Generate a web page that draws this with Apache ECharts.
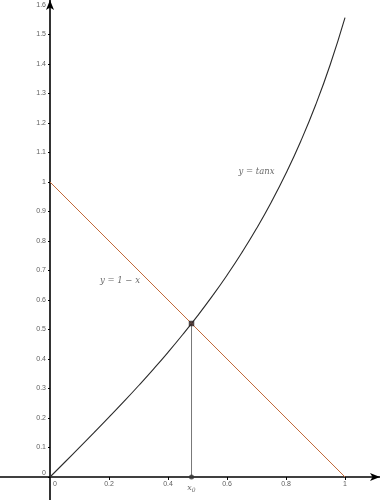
<!DOCTYPE html>
<html>
<head>
<meta charset="utf-8">
<script src="https://cdn.jsdelivr.net/npm/echarts@6/dist/echarts.min.js"></script>
<style>
  html, body { margin: 0; padding: 0; background: #fff; }
  #chart { width: 380px; height: 500px; }
</style>
</head>
<body>
<div id="chart"></div>
<script>
// Visible window of the plane
const xRange = [-0.1695, 1.1186];
const yRange = [-0.078, 1.617];

// Tick positions
const xTicks = [0.2, 0.4, 0.6, 0.8, 1];
const yTicks = [0, 0.1, 0.2, 0.3, 0.4, 0.5, 0.6, 0.7, 0.8, 0.9, 1, 1.1, 1.2, 1.3, 1.4, 1.5, 1.6];

// y = tan x, sampled on [0, 1]
const tanX = [0, 0.05, 0.1, 0.15, 0.2, 0.25, 0.3, 0.35, 0.4, 0.45, 0.5, 0.55, 0.6, 0.65, 0.7, 0.75, 0.8, 0.85, 0.9, 0.95, 1];
const tanY = [0, 0.0500, 0.1003, 0.1511, 0.2027, 0.2553, 0.3093, 0.3650, 0.4228, 0.4831, 0.5463, 0.6131, 0.6841, 0.7602, 0.8423, 0.9316, 1.0296, 1.1383, 1.2602, 1.3984, 1.5574];

// y = 1 - x, end points
const lineX = [0, 1];
const lineY = [1, 0];

// Intersection point x0
const x0 = 0.4797;
const y0 = 0.5203;

// Curve captions: [x, y, text]
const captions = [
  [0.70, 1.034, 'y = tanx'],
  [0.237, 0.664, 'y = 1 − x']
];

const tanData = tanX.map((x, i) => [x, tanY[i]]);
const lineData = lineX.map((x, i) => [x, lineY[i]]);

const chart = echarts.init(document.getElementById('chart'), null, { renderer: 'canvas' });

const labelFont = { color: '#333', fontSize: 7, fontFamily: 'Liberation Sans, Arial, sans-serif' };

function fmt(v) { return String(Math.round(v * 10) / 10); }

chart.setOption({
  animation: false,
  backgroundColor: '#fff',
  grid: { left: 0, right: 0, top: 0, bottom: 0, containLabel: false, outerBoundsMode: 'none' },
  xAxis: {
    type: 'value',
    min: xRange[0],
    max: xRange[1],
    splitLine: { show: false },
    axisLine: {
      onZero: true,
      symbol: ['none', 'arrow'],
      symbolSize: [6, 10],
      lineStyle: { color: '#000', width: 1.6 }
    },
    axisTick: { customValues: xTicks, length: 3, lineStyle: { color: '#000' } },
    axisLabel: { show: false }
  },
  yAxis: {
    type: 'value',
    min: yRange[0],
    max: yRange[1],
    splitLine: { show: false },
    axisLine: {
      onZero: true,
      symbol: ['none', 'arrow'],
      symbolSize: [6, 10],
      lineStyle: { color: '#000', width: 1.6 }
    },
    axisTick: { customValues: yTicks, length: 2, lineStyle: { color: '#000' } },
    axisLabel: { show: false }
  },
  series: [
    {
      type: 'line',
      data: tanData,
      smooth: true,
      showSymbol: false,
      lineStyle: { color: '#2a2a2a', width: 1.1 },
      z: 3
    },
    {
      type: 'line',
      data: lineData,
      showSymbol: false,
      lineStyle: { color: '#c2693a', width: 1 },
      z: 3
    },
    {
      type: 'line',
      data: [[x0, 0], [x0, y0]],
      showSymbol: false,
      lineStyle: { color: '#777', width: 1 },
      z: 2
    },
    {
      type: 'scatter',
      data: [[x0, y0]],
      symbol: 'rect',
      symbolSize: 5,
      itemStyle: { color: '#3a2828', borderColor: '#222', borderWidth: 0.5 },
      z: 5
    },
    {
      type: 'scatter',
      data: [[x0, 0]],
      symbol: 'circle',
      symbolSize: 5,
      itemStyle: { color: '#333' },
      label: {
        show: true,
        position: 'bottom',
        distance: 3,
        formatter: '{v|x}{s|0}',
        rich: {
          v: { fontFamily: 'DejaVu Serif, serif', fontStyle: 'italic', fontSize: 8, color: '#444' },
          s: { fontFamily: 'DejaVu Serif, serif', fontStyle: 'italic', fontSize: 6, color: '#444', verticalAlign: 'bottom', padding: [5, 0, 0, 0] }
        }
      },
      z: 5
    },
    // tick labels along the y axis (0 sits just above the x axis)
    {
      type: 'scatter',
      data: yTicks.map(v => ({ value: [0, v], label: v === 0 ? { offset: [0, -4] } : undefined })),
      symbolSize: 0,
      silent: true,
      label: Object.assign({ show: true, position: 'left', distance: 4, formatter: p => fmt(p.value[1]) }, labelFont)
    },
    // tick labels along the x axis
    {
      type: 'scatter',
      data: xTicks.map(v => [v, 0]),
      symbolSize: 0,
      silent: true,
      label: Object.assign({ show: true, position: 'bottom', distance: 4, formatter: p => fmt(p.value[0]) }, labelFont)
    },
    {
      type: 'scatter',
      data: [[0, 0]],
      symbolSize: 0,
      silent: true,
      label: Object.assign({ show: true, formatter: '0', position: 'bottom', distance: 4, offset: [5, 0] }, labelFont)
    },
    {
      type: 'scatter',
      data: captions.map(c => ({ value: [c[0], c[1]], name: c[2] })),
      symbolSize: 0,
      label: {
        show: true,
        position: 'inside',
        formatter: p => p.name,
        fontFamily: 'DejaVu Serif, serif',
        fontStyle: 'italic',
        fontSize: 8.5,
        color: '#444'
      },
      silent: true
    }
  ]
});
</script>
</body>
</html>
